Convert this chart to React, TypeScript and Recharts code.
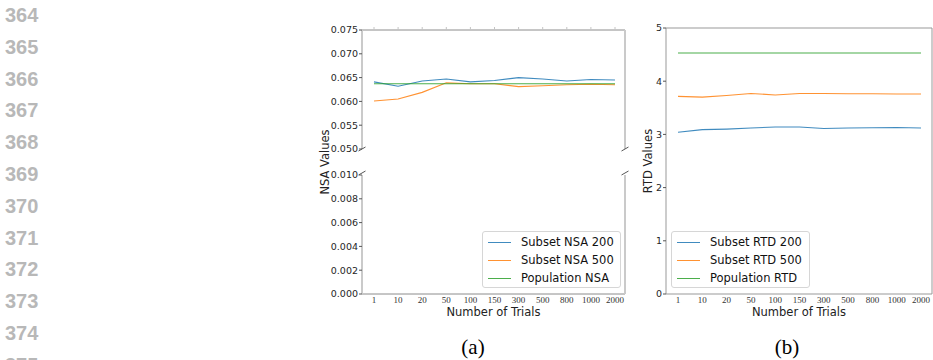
import { LineChart, Line, XAxis, YAxis, Legend } from "recharts";

const trials = ["1", "10", "20", "50", "100", "150", "300", "500", "800", "1000", "2000"];

const subsetNsa200 = [0.0641, 0.0632, 0.0643, 0.0647, 0.0641, 0.0644, 0.065, 0.0647, 0.0643, 0.0646, 0.0645];
const subsetNsa500 = [0.0601, 0.0605, 0.0619, 0.0639, 0.0637, 0.0637, 0.0631, 0.0633, 0.0635, 0.0636, 0.0635];
const populationNsa = [0.0637, 0.0637, 0.0637, 0.0637, 0.0637, 0.0637, 0.0637, 0.0637, 0.0637, 0.0637, 0.0637];

const subsetRtd200 = [3.04, 3.09, 3.1, 3.12, 3.14, 3.14, 3.11, 3.12, 3.125, 3.13, 3.12];
const subsetRtd500 = [3.715, 3.7, 3.73, 3.77, 3.74, 3.77, 3.77, 3.765, 3.765, 3.76, 3.76];
const populationRtd = [4.53, 4.53, 4.53, 4.53, 4.53, 4.53, 4.53, 4.53, 4.53, 4.53, 4.53];

const nsaTopTicks = [0.05, 0.055, 0.06, 0.065, 0.07, 0.075];
const nsaBottomTicks = [0, 0.002, 0.004, 0.006, 0.008, 0.01];
const rtdTicks = [0, 1, 2, 3, 4, 5];

const lineNumbers = [364, 365, 366, 367, 368, 369, 370, 371, 372, 373, 374, 375];

const BLUE = "#1f77b4";
const ORANGE = "#ff7f0e";
const GREEN = "#2ca02c";

const nsaData = trials.map((t, i) => ({
  trial: t,
  s200: subsetNsa200[i],
  s500: subsetNsa500[i],
  pop: populationNsa[i],
}));

const rtdData = trials.map((t, i) => ({
  trial: t,
  s200: subsetRtd200[i],
  s500: subsetRtd500[i],
  pop: populationRtd[i],
}));

const seriesOrder = ["s200", "s500", "pop"];

const yTick = { fontSize: 9.5, fill: "#262626", fontFamily: "DejaVu Sans" };
const xTick = { fontSize: 9, fill: "#333", fontFamily: "Liberation Serif" };
const axisLabel = { fontSize: 11.5, fill: "#222", fontFamily: "DejaVu Sans" };

function BoxLegend({ payload }: { payload?: Array<{ value: string; color: string; dataKey?: string }> }) {
  if (!payload) return null;
  const items = [...payload].sort(
    (a, b) => seriesOrder.indexOf(String(a.dataKey)) - seriesOrder.indexOf(String(b.dataKey))
  );
  return (
    <div
      style={{
        width: 139,
        height: 57,
        boxSizing: "border-box",
        border: "1px solid #d6d6d6",
        borderRadius: 3,
        background: "rgba(255,255,255,0.85)",
        paddingTop: 1,
        fontFamily: "DejaVu Sans",
        fontSize: 11.5,
        color: "#111",
      }}
    >
      {items.map((p) => (
        <div key={p.value} style={{ height: 18, display: "flex", alignItems: "center" }}>
          <span
            style={{
              display: "inline-block",
              width: 23,
              marginLeft: 5,
              marginRight: 10,
              borderTop: `1.3px solid ${p.color}`,
              opacity: 0.85,
            }}
          />
          <span style={{ whiteSpace: "nowrap" }}>{p.value}</span>
        </div>
      ))}
    </div>
  );
}

function series(names: [string, string, string]) {
  return [
    <Line key="a" dataKey="s200" name={names[0]} stroke={BLUE} strokeWidth={1.1} strokeOpacity={0.85} dot={false} isAnimationActive={false} />,
    <Line key="b" dataKey="s500" name={names[1]} stroke={ORANGE} strokeWidth={1.1} strokeOpacity={0.85} dot={false} isAnimationActive={false} />,
    <Line key="c" dataKey="pop" name={names[2]} stroke={GREEN} strokeWidth={1.1} strokeOpacity={0.85} dot={false} isAnimationActive={false} />,
  ];
}

const nsaNames: [string, string, string] = ["Subset NSA 200", "Subset NSA 500", "Population NSA"];
const rtdNames: [string, string, string] = ["Subset RTD 200", "Subset RTD 500", "Population RTD"];

export default function App() {
  return (
    <div style={{ position: "fixed", left: 0, top: 0, width: 933, height: 360, background: "#fff", overflow: "hidden" }}>
      {/* line numbers and captions */}
      <svg width={933} height={360} style={{ position: "absolute", left: 0, top: 0 }}>
        {lineNumbers.map((n, i) => (
          <text
            key={n}
            x={5}
            y={14.9 + i * 31.78 + 7.2}
            fontFamily="Liberation Sans"
            fontWeight="bold"
            fontSize={20}
            fill="#b8b8b8"
          >
            {n}
          </text>
        ))}
        <text x={473} y={354} textAnchor="middle" fontFamily="Liberation Serif" fontSize={21} fill="#000">(a)</text>
        <text x={787} y={354} textAnchor="middle" fontFamily="Liberation Serif" fontSize={21} fill="#000">(b)</text>
        <text x={329} y={162} transform="rotate(-90 329 162)" textAnchor="middle" {...axisLabel}>NSA Values</text>
        <text x={652} y={161} transform="rotate(-90 652 161)" textAnchor="middle" {...axisLabel}>RTD Values</text>
      </svg>

      {/* (a) upper panel */}
      <div style={{ position: "absolute", left: 300, top: 20 }}>
        <LineChart width={330} height={135} data={nsaData} margin={{ top: 9, right: 4, bottom: 6, left: 0 }}>
          <XAxis dataKey="trial" hide padding={{ left: 12, right: 10 }} />
          <XAxis
            xAxisId="top"
            dataKey="trial"
            orientation="top"
            height={1}
            padding={{ left: 12, right: 10 }}
            interval={0}
            axisLine={{ stroke: "#8c8c8c", strokeWidth: 1 }}
            tickLine={{ stroke: "#c4c4c4" }}
            tickSize={3}
            tickFormatter={() => ""}
          />
          <YAxis
            width={62}
            domain={[0.05, 0.075]}
            ticks={nsaTopTicks}
            allowDataOverflow
            tickFormatter={(v) => Number(v).toFixed(3)}
            tick={yTick}
            tickSize={3}
            tickMargin={1}
            axisLine={{ stroke: "#cacaca", strokeWidth: 2 }}
            tickLine={{ stroke: "#555" }}
          />
          <YAxis
            yAxisId="r"
            orientation="right"
            width={1}
            type="number"
            domain={[0.05, 0.075]}
            ticks={nsaTopTicks}
            tick={false}
            tickLine={false}
            axisLine={{ stroke: "#cacaca", strokeWidth: 2 }}
          />
          {series(nsaNames)}
        </LineChart>
      </div>

      {/* (a) lower panel */}
      <div style={{ position: "absolute", left: 300, top: 165 }}>
        <LineChart width={330} height={155} data={nsaData} margin={{ top: 10, right: 4, bottom: 2, left: 0 }}>
          <XAxis
            dataKey="trial"
            height={24}
            padding={{ left: 12, right: 10 }}
            interval={0}
            tick={xTick}
            tickLine={false}
            tickSize={0}
            tickMargin={3}
            axisLine={{ stroke: "#8c8c8c", strokeWidth: 1 }}
            label={{ value: "Number of Trials", position: "insideBottom", offset: 2, ...axisLabel }}
          />
          <YAxis
            width={62}
            domain={[0, 0.01]}
            ticks={nsaBottomTicks}
            allowDataOverflow
            tickFormatter={(v) => Number(v).toFixed(3)}
            tick={yTick}
            tickSize={3}
            tickMargin={1}
            axisLine={{ stroke: "#cacaca", strokeWidth: 2 }}
            tickLine={{ stroke: "#555" }}
          />
          <YAxis
            yAxisId="r"
            orientation="right"
            width={1}
            type="number"
            domain={[0, 0.01]}
            ticks={nsaBottomTicks}
            tick={false}
            tickLine={false}
            axisLine={{ stroke: "#cacaca", strokeWidth: 2 }}
          />
          <Legend
            layout="vertical"
            align="center"
            verticalAlign="middle"
            content={<BoxLegend />}
            wrapperStyle={{ left: 182, top: 66, width: 139, height: 57 }}
          />
          {series(nsaNames)}
        </LineChart>
      </div>

      {/* broken axis marks */}
      <svg width={933} height={360} style={{ position: "absolute", left: 0, top: 0, pointerEvents: "none" }}>
        <g stroke="#555" strokeWidth={1}>
          <line x1={358.5} y1={151} x2={365.5} y2={147} />
          <line x1={358.5} y1={175} x2={365.5} y2={171} />
          <line x1={621.5} y1={151} x2={628.5} y2={147} />
          <line x1={621.5} y1={175} x2={628.5} y2={171} />
        </g>
      </svg>

      {/* (b) */}
      <div style={{ position: "absolute", left: 630, top: 18 }}>
        <LineChart width={303} height={302} data={rtdData} margin={{ top: 9, right: 0, bottom: 2, left: 0 }}>
          <XAxis
            dataKey="trial"
            height={24}
            padding={{ left: 12, right: 11 }}
            interval={0}
            tick={xTick}
            tickLine={false}
            tickSize={0}
            tickMargin={3}
            axisLine={{ stroke: "#999", strokeWidth: 1 }}
            label={{ value: "Number of Trials", position: "insideBottom", offset: 2, ...axisLabel }}
          />
          <XAxis
            xAxisId="top"
            dataKey="trial"
            orientation="top"
            height={1}
            padding={{ left: 12, right: 11 }}
            tickLine={false}
            tickFormatter={() => ""}
            axisLine={{ stroke: "#999", strokeWidth: 1 }}
          />
          <YAxis
            width={36}
            domain={[0, 5]}
            ticks={rtdTicks}
            tick={yTick}
            tickSize={3}
            tickMargin={1}
            axisLine={{ stroke: "#999", strokeWidth: 1 }}
            tickLine={{ stroke: "#555" }}
          />
          <YAxis
            yAxisId="r"
            orientation="right"
            width={1}
            type="number"
            domain={[0, 5]}
            ticks={rtdTicks}
            tick={false}
            tickLine={false}
            axisLine={{ stroke: "#999", strokeWidth: 1 }}
          />
          <Legend
            layout="vertical"
            align="center"
            verticalAlign="middle"
            content={<BoxLegend />}
            wrapperStyle={{ left: 41, top: 213, width: 139, height: 57 }}
          />
          {series(rtdNames)}
        </LineChart>
      </div>
    </div>
  );
}
